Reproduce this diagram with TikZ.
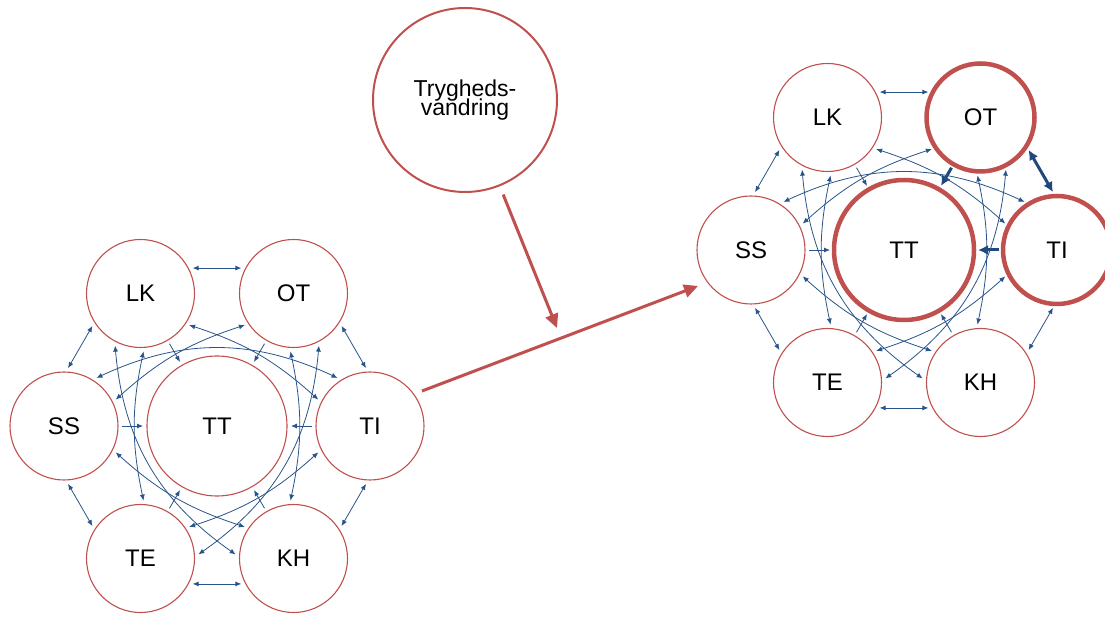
\documentclass[tikz,border=0pt]{standalone}
\usepackage{fontspec}
\setmainfont{Liberation Sans}
\usetikzlibrary{arrows.meta}
\definecolor{redc}{RGB}{192,80,77}
\definecolor{linkblue}{RGB}{40,84,138}
\definecolor{darkblue}{RGB}{31,73,125}
\newcommand\tvfont{\fontsize{23}{19}\selectfont\lineskiplimit=-100pt\relax\lineskip=0pt\relax}
\tikzset{
  outernode/.style={circle, draw=redc, line width=1.1pt, minimum size=108pt, inner sep=0pt, outer sep=4pt, font=\fontsize{24}{28}\selectfont},
  hubnode/.style={outernode, minimum size=140pt},
  heavy/.style={line width=4.5pt},
  sglarrow/.style={draw=linkblue, line width=0.8pt, -{Latex[length=6pt,width=5pt]}},
  dblarrow/.style={draw=linkblue, line width=0.8pt, {Latex[length=6pt,width=5pt]}-{Latex[length=6pt,width=5pt]}},
  sglthick/.style={draw=darkblue, line width=3pt, -{Latex[length=10pt,width=10pt]}},
  dblthick/.style={draw=darkblue, line width=3pt, {Latex[length=10pt,width=10pt]}-{Latex[length=10pt,width=10pt]}},
  redarrow/.style={draw=redc, line width=3pt, -{Triangle[length=14pt,width=13pt]}},
}
\newcommand\clusterlinks[4]{%
  \draw[dblarrow] (LK#1.26) -- (OT#1.154);
  \draw[#3] (OT#1.326) -- (TI#1.94);
  \draw[dblarrow] (TI#1.266) -- (KH#1.34);
  \draw[dblarrow] (KH#1.206) -- (TE#1.334);
  \draw[dblarrow] (TE#1.146) -- (SS#1.274);
  \draw[dblarrow] (SS#1.86) -- (LK#1.214);
  \draw[sglarrow] (LK#1) -- (TT#1);
  \draw[#2] (OT#1) -- (TT#1);
  \draw[sglarrow] (SS#1) -- (TT#1);
  \draw[#4] (TI#1) -- (TT#1);
  \draw[sglarrow] (TE#1) -- (TT#1);
  \draw[sglarrow] (KH#1) -- (TT#1);
  \draw[dblarrow] (SS#1.56) to[bend left=25] (TI#1.124);
  \draw[dblarrow] (KH#1.176) to[bend left=25] (LK#1.244);
  \draw[dblarrow] (OT#1.296) to[bend left=25] (TE#1.4);
  \draw[dblarrow] (LK#1.327) to[bend left=12] (TI#1.153);
  \draw[dblarrow] (TI#1.207) to[bend left=12] (TE#1.33);
  \draw[dblarrow] (TE#1.87) to[bend left=12] (LK#1.273);
  \draw[dblarrow] (SS#1.27) to[bend left=12] (OT#1.213);
  \draw[dblarrow] (KH#1.147) to[bend left=12] (SS#1.333);
  \draw[dblarrow] (OT#1.267) to[bend left=12] (KH#1.93);
}
\begin{document}
\begin{tikzpicture}[x=1pt,y=1pt]
\useasboundingbox (0,0) rectangle (1105,621);
% left cluster
\begin{scope}[shift={(217,195)}]
  \node[hubnode] (TT1) at (0,0) {TT};
  \node[outernode] (LK1) at (120:153) {LK};
  \node[outernode] (OT1) at (60:153) {OT};
  \node[outernode] (SS1) at (180:153) {SS};
  \node[outernode] (TI1) at (0:153) {TI};
  \node[outernode] (TE1) at (240:153) {TE};
  \node[outernode] (KH1) at (300:153) {KH};
\end{scope}
\clusterlinks{1}{sglarrow}{dblarrow}{sglarrow}
% right cluster
\begin{scope}[shift={(904,371)}]
  \node[hubnode, heavy] (TT2) at (0,0) {TT};
  \node[outernode] (LK2) at (120:153) {LK};
  \node[outernode, heavy] (OT2) at (60:153) {OT};
  \node[outernode] (SS2) at (180:153) {SS};
  \node[outernode, heavy] (TI2) at (0:153) {TI};
  \node[outernode] (TE2) at (240:153) {TE};
  \node[outernode] (KH2) at (300:153) {KH};
\end{scope}
\clusterlinks{2}{sglthick}{dblthick}{sglthick}
% Trygheds-vandring
\node[circle, draw=redc, line width=2pt, minimum size=184pt, inner sep=0pt, align=center, font=\tvfont] (TV) at (465,521) {Trygheds-\\vandring};
\coordinate (r1e) at (557,293);
\draw[redarrow, shorten <=9pt] (TV) -- (r1e);
\coordinate (r2s) at (422,230);
\coordinate (r2e) at (698,335);
\draw[redarrow] (r2s) -- (r2e);
\end{tikzpicture}
\end{document}
